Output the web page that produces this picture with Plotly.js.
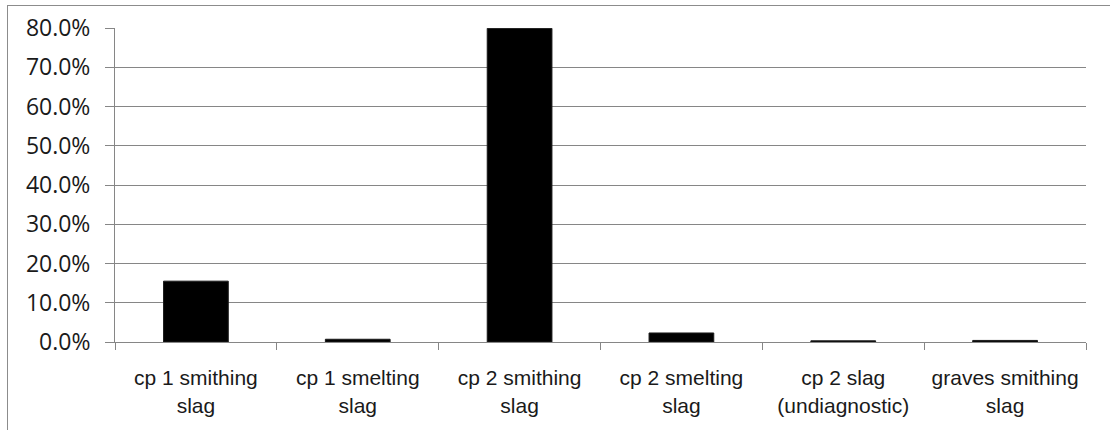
<!DOCTYPE html>
<html>
<head>
<meta charset="utf-8">
<script src="https://cdn.plot.ly/plotly-3.0.1.min.js"></script>
<style>
  html, body { margin: 0; padding: 0; background: #fff; }
  #wrap { position: relative; width: 1110px; height: 430px; overflow: hidden; }
  #chart { width: 1110px; height: 430px; }
  #frame { position: absolute; left: 7px; top: 5px; width: 1200px; height: 500px;
           border-top: 1px solid #8c8c8c; border-left: 1px solid #8c8c8c; pointer-events: none; }
</style>
</head>
<body>
<div id="wrap">
  <div id="chart"></div>
  <div id="frame"></div>
</div>
<script>
const categories = [
  "cp 1 smithing<br>slag",
  "cp 1 smelting<br>slag",
  "cp 2 smithing<br>slag",
  "cp 2 smelting<br>slag",
  "cp 2 slag<br>(undiagnostic)",
  "graves smithing<br>slag"
];
const sharePercent = [15.5, 0.7, 79.9, 2.3, 0.3, 0.4];
const yTickValues = [0, 10, 20, 30, 40, 50, 60, 70, 80];

const trace = {
  type: "bar",
  x: categories,
  y: sharePercent,
  marker: { color: "#000000", line: { color: "#1a1a1a", width: 1 } },
  hoverinfo: "x+y"
};

const layout = {
  width: 1110,
  height: 430,
  margin: { l: 115, r: 24, t: 28, b: 88 },
  paper_bgcolor: "#ffffff",
  plot_bgcolor: "#ffffff",
  showlegend: false,
  bargap: 0.6,
  xaxis: {
    type: "category",
    tickson: "boundaries",
    ticks: "outside",
    ticklen: 7,
    tickcolor: "#868686",
    tickwidth: 1,
    showgrid: false,
    showline: true,
    linecolor: "#868686",
    linewidth: 1,
    zeroline: false,
    ticklabelstandoff: 17,
    tickfont: { family: "Liberation Sans, Arial, sans-serif", size: 21, color: "#1a1a1a" }
  },
  yaxis: {
    range: [0, 80],
    tickvals: yTickValues,
    ticktext: yTickValues.map(v => v.toFixed(1) + "%"),
    ticks: "outside",
    ticklen: 9,
    tickcolor: "#868686",
    tickwidth: 1,
    showgrid: true,
    gridcolor: "#868686",
    gridwidth: 1,
    showline: true,
    linecolor: "#868686",
    linewidth: 1,
    zeroline: false,
    ticklabelstandoff: 10,
    tickfont: { family: "Open Sans, Liberation Sans, sans-serif", size: 23, color: "#1a1a1a" }
  }
};

Plotly.newPlot("chart", [trace], layout, { displayModeBar: false, staticPlot: true });
</script>
</body>
</html>
